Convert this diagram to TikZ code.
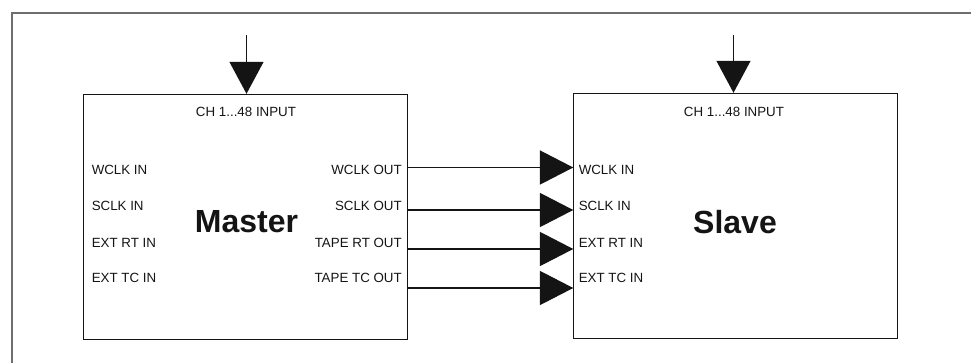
\documentclass[tikz,border=0pt]{standalone}
\usepackage{fontspec}
\setmainfont{Liberation Sans}
\usetikzlibrary{positioning, arrows.meta}
\definecolor{framec}{RGB}{110,110,110}
\definecolor{inkc}{RGB}{20,20,20}

\begin{document}
\begin{tikzpicture}[x=0.75pt, y=-0.75pt, font=\fontsize{10pt}{12pt}\selectfont, text=inkc,
  unit/.style={draw=inkc, line width=0.8pt, rectangle, minimum width=243pt, minimum height=184pt, inner sep=0pt},
  port/.style={inner sep=0pt, font=\fontsize{10pt}{12pt}\selectfont},
  sig/.style={draw=inkc, line width=1pt, -{Triangle[length=25pt, width=25.5pt]}},
  title/.style={inner sep=0pt, font=\fontsize{24pt}{28pt}\selectfont\bfseries}]
  \useasboundingbox (0,0) rectangle (971,363);
  % outer frame, only top and left edges show
  \draw[framec, line width=0.8pt] (971,13) -- (12,13) -- (12,363);

  % the two units
  \node[unit] (master) at (245.8,217) {};
  \node[unit] (slave) at (735.8,216) {};

  % channel inputs from above
  \coordinate (minput) at (246.5,35);
  \coordinate (sinput) at (733.5,35);
  \draw[sig, -{Triangle[length=24pt, width=25.5pt]}] (minput) -- (minput |- master.north);
  \draw[sig, -{Triangle[length=24pt, width=25.5pt]}] (sinput) -- (sinput |- slave.north);
  \node[port] (mch) at (246,112) {CH 1...48 INPUT};
  \node[port] (sch) at (734,112) {CH 1...48 INPUT};

  % names
  \node[title] (mname) at (246.5,222) {Master};
  \node[title] (sname) at (735,222) {Slave};

  % master ports
  \node[port, anchor=west] (mwin) at (91.5,170) {WCLK IN};
  \node[port, anchor=west] (msin) at (91.5,206) {SCLK IN};
  \node[port, anchor=west] (mrin) at (91.5,242.5) {EXT RT IN};
  \node[port, anchor=west] (mtin) at (91.5,278) {EXT TC IN};
  \node[port, anchor=east] (mwout) at (402,170) {WCLK OUT};
  \node[port, anchor=east] (msout) at (402,206) {SCLK OUT};
  \node[port, anchor=east] (mrout) at (402,242.5) {TAPE RT OUT};
  \node[port, anchor=east] (mtout) at (402,278) {TAPE TC OUT};

  % slave ports
  \node[port, anchor=west] (swin) at (578.5,170) {WCLK IN};
  \node[port, anchor=west] (ssin) at (578.5,206) {SCLK IN};
  \node[port, anchor=west] (srin) at (578.5,242.5) {EXT RT IN};
  \node[port, anchor=west] (stin) at (578.5,278) {EXT TC IN};

  % sync lines master -> slave
  \foreach \yl [count=\i] in {167.5,210,249,288} {
    \coordinate (out\i) at (master.east |- 0,\yl);
    \coordinate (in\i) at (slave.west |- 0,\yl);
    \draw[sig] (out\i) -- (in\i);
  }
\end{tikzpicture}
\end{document}
